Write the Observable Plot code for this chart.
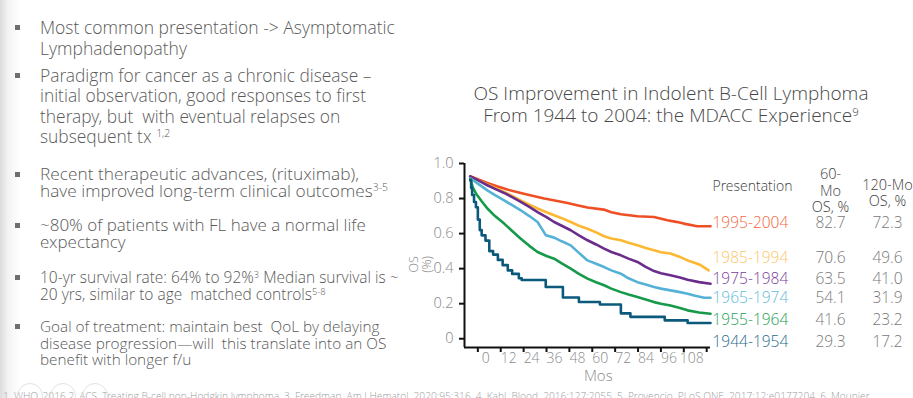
<!DOCTYPE html>
<html>
<head>
<meta charset="utf-8">
<script src="https://cdn.jsdelivr.net/npm/d3@7"></script>
<script src="https://cdn.jsdelivr.net/npm/@observablehq/plot@0.6"></script>
<style>
  html, body { margin: 0; padding: 0; }
  body {
    width: 913px; height: 398px; overflow: hidden; position: relative;
    font-family: "Open Sans Light", "Open Sans", sans-serif; font-weight: 300; color: #5a5a5a;
    background: linear-gradient(to right, #dcdcdc 0px, #f3f3f3 8px, #ffffff 20px);
  }
  .bl { position: absolute; left: 40px; white-space: nowrap; }
  .bl sup { font-size: 0.6em; vertical-align: 0.55em; line-height: 0; }
  .sq { position: absolute; left: 15px; width: 5px; height: 5px; background: #6e6e6e; }
  #title { position: absolute; left: 420px; width: 502px; top: 82px; text-align: center;
           font-size: 19px; line-height: 22px; color: #474747; white-space: nowrap; }
  #title sup { font-size: 0.6em; vertical-align: 0.55em; line-height: 0; }
  #chart { position: absolute; left: 400px; top: 150px; }
  #foot { position: absolute; left: 3px; top: 389px; font-size: 10.2px; color: #a0a0a0; white-space: nowrap; }
  .circ { position: absolute; top: 383px; width: 26px; height: 26px; border-radius: 50%;
          border: 1px solid #e2e2e2; box-sizing: border-box; }
</style>
</head>
<body>
<div class="sq" style="top:25px"></div>
<div class="bl" style="top:17px;font-size:17.5px;line-height:21px">Most common presentation -&gt; Asymptomatic<br>Lymphadenopathy</div>
<div class="sq" style="top:73px"></div>
<div class="bl" style="top:65px;font-size:17.4px;line-height:20.4px">Paradigm for cancer as a chronic disease –<br>initial observation, good responses to first<br>therapy, but&nbsp; with eventual relapses on<br>subsequent tx <sup>1,2</sup></div>
<div class="sq" style="top:172px"></div>
<div class="bl" style="top:165px;font-size:17.3px;line-height:17px">Recent therapeutic advances, (rituximab),<br>have improved long-term clinical outcomes<sup>3-5</sup></div>
<div class="sq" style="top:223px"></div>
<div class="bl" style="top:216px;font-size:17px;line-height:17px">~80% of patients with FL have a normal life<br>expectancy</div>
<div class="sq" style="top:275px"></div>
<div class="bl" style="top:269px;font-size:15.5px;line-height:17px">10-yr survival rate: 64% to 92%<sup>3</sup> Median survival is ~<br>20 yrs, similar to age&nbsp; matched controls<sup>5-8</sup></div>
<div class="sq" style="top:324px"></div>
<div class="bl" style="top:318px;font-size:15.3px;line-height:16.7px">Goal of treatment: maintain best&nbsp; QoL by delaying<br>disease progression—will&nbsp; this translate into an OS<br>benefit with longer f/u</div>

<div id="title">OS Improvement in Indolent B-Cell Lymphoma<br>From 1944 to 2004: the MDACC Experience<sup>9</sup></div>
<div id="chart"></div>

<div id="foot">1. WHO, 2016 2. ACS. Treating B-cell non-Hodgkin lymphoma. 3. Freedman. Am J Hematol. 2020;95:316. 4. Kahl. Blood. 2016;127:2055. 5. Provencio. PLoS ONE. 2017;12:e0177204. 6. Mounier</div>
<div class="circ" style="left:17px"></div>
<div class="circ" style="left:50px"></div>
<div class="circ" style="left:82px"></div>

<script>
// ---------- data ----------
const periods = ["1995-2004", "1985-1994", "1975-1984", "1965-1974", "1955-1964", "1944-1954"];
const os60 = ["82.7", "70.6", "63.5", "54.1", "41.6", "29.3"];
const os120 = ["72.3", "49.6", "41.0", "31.9", "23.2", "17.2"];
const lineColors = ["#ee4f24", "#fdb833", "#6a2d8c", "#55b2d6", "#169a4a", "#0b5a7c"];
const labelColors = ["#f26a45", "#fcc565", "#7a3e98", "#62bbdc", "#23a055", "#1d6b8c"];

const xTickValues = [0, 12, 24, 36, 48, 60, 72, 84, 96, 108, 120];
const xTickLabels = ["0", "12", "24", "36", "48", "60", "72", "84", "96", "108"];
const yTickValues = [0, 0.2, 0.4, 0.6, 0.8, 1.0];

// survival curves: [month, survival fraction]
const s1995 = [[-4,0.927],[0,0.91],[5,0.889],[10,0.87],[15.5,0.851],[22.5,0.832],[28,0.818],[34.8,0.80],[41,0.787],[47,0.775],[52,0.762],[57.5,0.749],[66,0.737],[70,0.722],[75,0.71],[83.7,0.699],[92.4,0.695],[99.4,0.676],[104,0.667],[108,0.657],[115,0.642],[122,0.642]];
const s1985 = [[-4,0.92],[0,0.905],[5,0.88],[9,0.86],[13.8,0.838],[18,0.815],[22.5,0.79],[27,0.765],[31.3,0.743],[36,0.722],[40,0.705],[44,0.688],[48.7,0.666],[53,0.645],[57.5,0.628],[62,0.607],[66.2,0.585],[70,0.572],[75,0.562],[79,0.548],[83.7,0.533],[88,0.518],[92.4,0.505],[96,0.494],[101,0.486],[106,0.467],[110,0.447],[114,0.432],[117,0.419],[121,0.39]];
const s1975 = [[-4,0.927],[0,0.905],[5,0.876],[9,0.855],[13.8,0.832],[18,0.808],[22.5,0.781],[27,0.752],[31.3,0.723],[36,0.694],[40,0.666],[44,0.645],[48.7,0.619],[53,0.59],[57.5,0.562],[62,0.538],[66.2,0.514],[70,0.495],[75,0.476],[79,0.457],[83.7,0.438],[88,0.41],[92.4,0.386],[96,0.374],[101,0.362],[106,0.349],[110,0.337],[116,0.323],[122,0.314]];
const s1965 = [[-4,0.916],[0,0.885],[5,0.847],[9,0.82],[13.8,0.79],[18,0.762],[22.5,0.733],[27,0.70],[31.3,0.666],[34,0.62],[35.7,0.59],[40,0.577],[44,0.556],[48.7,0.533],[53,0.49],[57.5,0.447],[62,0.428],[66.2,0.409],[70,0.39],[75,0.371],[79,0.345],[83.7,0.323],[88,0.31],[92.4,0.295],[96,0.286],[101,0.276],[106,0.266],[110,0.257],[114,0.245],[118.7,0.234],[122,0.234]];
const s1955 = [[-4,0.91],[-2.5,0.86],[-1,0.829],[2,0.785],[5,0.743],[9,0.70],[13.8,0.657],[18,0.615],[22.5,0.571],[27,0.53],[31.3,0.495],[36,0.472],[40,0.457],[44,0.43],[48.7,0.40],[53,0.37],[57.5,0.343],[62,0.322],[66.2,0.305],[70,0.286],[75,0.266],[79,0.252],[83.7,0.238],[88,0.224],[92.4,0.209],[96,0.20],[101,0.19],[106,0.176],[110,0.162],[116,0.15],[122,0.143]];
const s1944 = [[-4,0.905],[-3.5,0.86],[-3,0.82],[-2,0.78],[-1,0.75],[0,0.68],[1,0.62],[2,0.59],[4,0.56],[6,0.50],[8,0.48],[10.5,0.45],[13,0.42],[15.7,0.39],[18,0.37],[21.5,0.345],[23,0.335],[35.6,0.295],[44.6,0.235],[53,0.21],[64,0.195],[75,0.145],[80,0.125],[98,0.105],[110,0.09],[122,0.09]];
const curves = [s1995, s1985, s1975, s1965, s1955, s1944];

// layout (label anchors in scale units, not data)
const rowLabelY = [0.663, 0.458, 0.338, 0.230, 0.104, -0.016];
const yLabelAt = {x: -30, y: 0.424};

// ---------- build ----------
const pts = [];
curves.forEach((c, i) => c.forEach(([m, v]) => pts.push({period: periods[i], month: m, surv: v})));
const rows = periods.map((p, i) => ({period: p, os60: os60[i], os120: os120[i], ly: rowLabelY[i], lc: labelColors[i]}));

const font = "'Open Sans Light', 'Open Sans', sans-serif";
const marks = [
  Plot.ruleX([-7], {y1: -0.05, y2: 1.0, stroke: "#111", strokeWidth: 2}),
  Plot.ruleY([-0.05], {x1: -7, x2: 122, stroke: "#111", strokeWidth: 2}),
  Plot.axisY({ticks: yTickValues, tickFormat: d => d === 0 ? "0" : d.toFixed(1), tickSize: 5, tickPadding: 6,
              stroke: "#111", strokeWidth: 2, fill: "#8c8c8c", fontSize: 14.5, label: null}),
  Plot.axisX({ticks: xTickValues, tickFormat: () => "", tickSize: 5, stroke: "#111", strokeWidth: 2, label: null}),
  Plot.text(xTickLabels, {x: (d, i) => xTickValues[i], text: d => d, frameAnchor: "bottom", dy: 15, dx: 8,
                          fill: "#8c8c8c", fontSize: 14}),
  Plot.text(["Mos"], {x: () => 60, frameAnchor: "bottom", dy: 33, dx: 6, fill: "#8c8c8c", fontSize: 15}),
  Plot.text(["OS\n(%)"], {x: () => yLabelAt.x, y: () => yLabelAt.y, rotate: -90, fill: "#8c8c8c", fontSize: 12.5, lineHeight: 1.0})
];
periods.forEach((p, i) => {
  marks.push(Plot.line(pts.filter(d => d.period === p), {
    x: "month", y: "surv", stroke: "period",
    curve: p === "1944-1954" ? "step-after" : "linear",
    strokeWidth: 2.6, strokeLinejoin: "round"
  }));
});
marks.push(
  Plot.text(["Presentation"], {frameAnchor: "top-right", textAnchor: "start", dx: 2, dy: 18, fill: "#444", fontSize: 14}),
  Plot.text(["60-\nMo\nOS, %"], {frameAnchor: "top-right", textAnchor: "middle", dx: 120, dy: 27, fill: "#444", fontSize: 14.5, lineHeight: 1.12, lineAnchor: "middle"}),
  Plot.text(["120-Mo\nOS, %"], {frameAnchor: "top-right", textAnchor: "middle", dx: 177, dy: 29, fill: "#444", fontSize: 14.5, lineHeight: 1.12, lineAnchor: "middle"}),
  Plot.text(rows, {y: "ly", text: "period", frameAnchor: "right", textAnchor: "start", dx: 2, fill: "lc", fontSize: 15.5}),
  Plot.text(rows, {y: "ly", text: "os60", frameAnchor: "right", textAnchor: "middle", dx: 120, fill: "#7a7a7a", fontSize: 15.5}),
  Plot.text(rows, {y: "ly", text: "os120", frameAnchor: "right", textAnchor: "middle", dx: 177, fill: "#7a7a7a", fontSize: 15.5})
);

const chart = Plot.plot({
  width: 513, height: 248,
  marginLeft: 64, marginRight: 203, marginTop: 13, marginBottom: 51,
  style: {fontFamily: font, fontWeight: 300, background: "transparent", overflow: "visible"},
  x: {domain: [-7, 122]},
  y: {domain: [-0.05, 1.0]},
  color: {domain: periods, range: lineColors},
  marks
});
document.getElementById("chart").appendChild(chart);
</script>
</body>
</html>
